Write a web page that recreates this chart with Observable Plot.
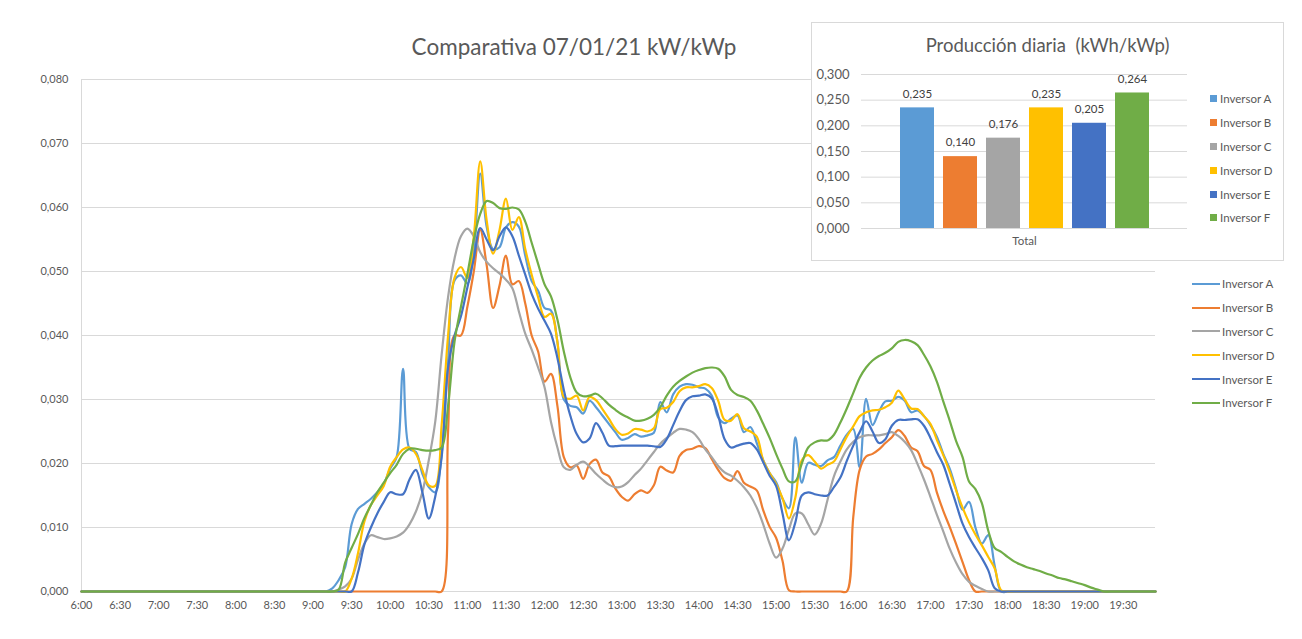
<!DOCTYPE html>
<html><head><meta charset="utf-8">
<script src="https://cdn.jsdelivr.net/npm/d3@7"></script>
<script src="https://cdn.jsdelivr.net/npm/@observablehq/plot@0.6"></script>
<style>
body{margin:0;background:#fff;}
#wrap{position:relative;width:1302px;height:639px;overflow:hidden;font-family:Lato,"Liberation Sans",sans-serif;color:#595959;background:#fff;}
#main{position:absolute;left:0;top:0;}
#title{position:absolute;left:0;width:1148px;top:33px;text-align:center;font-size:22.5px;line-height:28px;white-space:pre;}
#inset{position:absolute;left:811px;top:22px;width:473px;height:239px;box-sizing:border-box;border:1px solid #d9d9d9;background:#fff;}
#insetTitle{position:absolute;left:0;width:471px;top:10px;text-align:center;font-size:18.5px;line-height:24px;white-space:pre;}
#insetPlot{position:absolute;left:0;top:0;}
.leg{position:absolute;font-size:11.5px;}
.leg .row{height:23.8px;display:flex;align-items:center;white-space:nowrap;}
.leg .ln{width:28px;height:2px;margin-right:2px;}
.leg .sq{width:7px;height:7px;margin-right:3px;}
</style></head>
<body>
<div id="wrap">
  <div id="main"></div>
  <div id="title"></div>
  <div id="legMain" class="leg" style="left:1192px;top:272px;"></div>
  <div id="inset">
    <div id="insetPlot"></div>
    <div id="insetTitle"></div>
  </div>
  <div id="legInset" class="leg" style="left:1210px;top:87px;"></div>
</div>
<script>
// ---------- data ----------
const chartTitle = "Comparativa 07/01/21 kW/kWp";
const insetTitle = "Producción diaria  (kWh/kWp)";
const seriesNames = ["Inversor A","Inversor B","Inversor C","Inversor D","Inversor E","Inversor F"];
const seriesColors = ["#5B9BD5","#ED7D31","#A5A5A5","#FFC000","#4472C4","#70AD47"];

// time categories in minutes after midnight: 6:00, then every 5 min from 9:05 to 19:20, then 19:55
const times = [360].concat(d3.range(545, 1161, 5)).concat([1195]);

const invA = [0,
 0,0,0.0005,0.0018,0.0038,0.0105,0.0129,0.0137,0.0145,0.0155,0.0168,
 0.0192,0.021,0.0348,0.0223,0.0218,0.0184,0.0163,0.0155,0.0215,0.036,0.0486,0.0494,
 0.0481,0.0533,0.0653,0.057,0.0535,0.0538,0.0569,0.0577,0.057,0.0525,0.0485,0.047,
 0.0443,0.0439,0.039,0.030,0.029,0.0288,0.0278,0.0298,0.0288,0.0275,0.0262,0.0249,
 0.0237,0.024,0.0246,0.0242,0.0244,0.0248,0.0296,0.028,0.0308,0.032,0.0324,0.0323,
 0.0319,0.0317,0.0306,0.0272,0.0263,0.027,0.0275,0.0249,0.0257,0.0232,0.0205,0.0185,
 0.0171,0.0145,0.013,0.0241,0.017,0.0201,0.0198,0.0196,0.0205,0.021,0.0228,0.0245,
 0.0254,0.0194,0.0301,0.026,0.0281,0.0297,0.0298,0.0304,0.0298,0.028,0.0283,0.0274,
 0.026,0.0242,0.0215,0.0192,0.016,0.0128,0.014,0.01,0.0075,0.0088,0.004,0,
 0,0,0,0,0,0,0,0,0,0,0,0,
 0,0,0,0,0,
 0];
const invB = [0,
 0,0,0,0,0,0,0,0,0,0,0,
 0,0,0,0,0,0,0,0,0,0.025,0.040,0.040,
 0.0445,0.050,0.0565,0.051,0.0443,0.0478,0.0525,0.048,0.0485,0.045,0.040,0.0375,
 0.0328,0.034,0.029,0.021,0.0194,0.0197,0.0176,0.0199,0.0206,0.0186,0.018,0.0161,
 0.0148,0.0142,0.0152,0.0158,0.0154,0.0166,0.0195,0.0189,0.0186,0.0212,0.0221,0.0223,
 0.0227,0.0224,0.0207,0.019,0.0177,0.0173,0.0188,0.017,0.0164,0.0158,0.0127,0.0101,
 0.0084,0.0048,0.0002,0,0,0,0,0,0,0,0,0,
 0.0116,0.019,0.0211,0.0215,0.0222,0.0232,0.0241,0.0252,0.0243,0.0225,0.0219,0.0196,
 0.019,0.0155,0.0126,0.0101,0.0074,0.0046,0.0018,0,0,0,0,0,
 0,0,0,0,0,0,0,0,0,0,0,0,
 0,0,0,0,0,
 0];
const invC = [0,
 0,0,0,0.0003,0.0008,0.002,0.005,0.0075,0.0088,0.0085,0.0082,
 0.0083,0.0086,0.0092,0.0105,0.0125,0.0155,0.0205,0.0265,0.037,0.046,0.052,0.0555,
 0.0567,0.0555,0.053,0.0515,0.0505,0.0497,0.0487,0.0474,0.0438,0.0403,0.0378,0.035,
 0.0319,0.0265,0.0225,0.0194,0.019,0.0198,0.0203,0.0195,0.0184,0.0175,0.0167,0.0163,
 0.0164,0.0171,0.0182,0.0192,0.0205,0.0218,0.0231,0.024,0.0248,0.0254,0.0253,0.0249,
 0.0238,0.0222,0.021,0.0196,0.0186,0.0181,0.0173,0.0163,0.015,0.0131,0.0105,0.0075,
 0.0053,0.0067,0.0097,0.0122,0.0122,0.0105,0.0089,0.0106,0.0143,0.018,0.0203,0.0222,
 0.0234,0.0241,0.0244,0.0244,0.0244,0.0246,0.0249,0.0243,0.0234,0.0221,0.0199,0.0175,
 0.0148,0.012,0.0094,0.0067,0.0045,0.0027,0.0015,0.0009,0.0004,0,0,0,
 0,0,0,0,0,0,0,0,0,0,0,0,
 0,0,0,0,0,
 0];
const invD = [0,
 0,0,0,0,0,0.002,0.006,0.011,0.0135,0.015,0.0165,
 0.0195,0.021,0.0222,0.0225,0.0215,0.019,0.0166,0.0165,0.026,0.040,0.049,0.0507,
 0.049,0.0555,0.0672,0.058,0.0528,0.0565,0.0614,0.0565,0.0585,0.0535,0.0495,0.046,
 0.0429,0.0434,0.039,0.0304,0.0301,0.0306,0.0283,0.0304,0.0299,0.0285,0.027,0.0254,
 0.0245,0.0247,0.0254,0.0253,0.025,0.0255,0.0285,0.0287,0.0296,0.0313,0.0319,0.0319,
 0.0321,0.0324,0.0318,0.0298,0.0268,0.0267,0.0277,0.0255,0.025,0.0242,0.0205,0.0185,
 0.0168,0.0146,0.0114,0.0147,0.0205,0.0213,0.0203,0.0192,0.0198,0.0203,0.0222,0.0242,
 0.0258,0.0274,0.028,0.0283,0.0284,0.0288,0.0295,0.0314,0.030,0.0286,0.0285,0.0274,
 0.0262,0.0237,0.0213,0.0187,0.0158,0.0131,0.0108,0.0089,0.0072,0.0054,0.0036,0.0002,
 0,0,0,0,0,0,0,0,0,0,0,0,
 0,0,0,0,0,
 0];
const invE = [0,
 0,0,0,0,0,0,0.003,0.0074,0.010,0.0122,0.014,
 0.0155,0.0152,0.0152,0.0175,0.019,0.0155,0.0114,0.0148,0.021,0.035,0.040,0.043,
 0.0475,0.052,0.0568,0.055,0.0533,0.0555,0.0569,0.0555,0.0525,0.0495,0.0465,0.0442,
 0.0423,0.0403,0.0365,0.0315,0.0275,0.0246,0.0233,0.0239,0.0263,0.0248,0.0228,0.0227,
 0.0228,0.0228,0.0228,0.0228,0.0228,0.0227,0.0226,0.0238,0.026,0.0282,0.0299,0.0305,
 0.0306,0.0308,0.0302,0.0275,0.0238,0.0225,0.0228,0.0231,0.0232,0.0222,0.0202,0.0181,
 0.0165,0.0122,0.008,0.0108,0.015,0.0155,0.0152,0.015,0.015,0.0163,0.0178,0.0204,
 0.0228,0.0249,0.0266,0.025,0.0232,0.0238,0.0259,0.0268,0.0268,0.0269,0.0269,0.0259,
 0.024,0.0218,0.0198,0.0168,0.0137,0.0106,0.0085,0.0068,0.0052,0.0033,0.0005,0,
 0,0,0,0,0,0,0,0,0,0,0,0,
 0,0,0,0,0,
 0];
const invF = [0,
 0,0,0,0.0003,0.0045,0.0068,0.009,0.0115,0.0135,0.0155,0.017,
 0.0185,0.0198,0.0215,0.0223,0.0223,0.0221,0.022,0.0221,0.0225,0.029,0.039,0.0445,
 0.0496,0.055,0.059,0.061,0.0607,0.0599,0.0598,0.060,0.0597,0.0578,0.0545,0.0512,
 0.048,0.0461,0.0425,0.0375,0.0335,0.0311,0.0305,0.0306,0.0309,0.0302,0.0292,0.0284,
 0.0277,0.0272,0.0267,0.0267,0.027,0.0276,0.0288,0.0306,0.032,0.0329,0.0336,0.0342,
 0.0346,0.0349,0.035,0.0348,0.0336,0.0315,0.0307,0.0304,0.0298,0.0283,0.0262,0.024,
 0.0215,0.0192,0.0172,0.0172,0.020,0.0225,0.0233,0.0236,0.0236,0.0245,0.0264,0.0286,
 0.031,0.0334,0.035,0.0361,0.0368,0.0373,0.038,0.039,0.0393,0.0391,0.0385,0.037,
 0.0352,0.0328,0.0297,0.0267,0.0235,0.021,0.0172,0.016,0.0138,0.0095,0.0068,0.0062,
 0.0054,0.0047,0.0042,0.0038,0.0035,0.0032,0.0028,0.0025,0.0021,0.0019,0.0016,0.0013,
 0.001,0.0006,0.0003,0,0,
 0];
const seriesValues = [invA, invB, invC, invD, invE, invF];

const xTickLabels = ["6:00","6:30","7:00","7:30","8:00","8:30","9:00","9:30","10:00","10:30","11:00","11:30","12:00","12:30","13:00","13:30","14:00","14:30","15:00","15:30","16:00","16:30","17:00","17:30","18:00","18:30","19:00","19:30"];
const yTicksMain = [0,0.01,0.02,0.03,0.04,0.05,0.06,0.07,0.08];

const dailyTotals = [0.235,0.140,0.176,0.235,0.205,0.264];
const yTicksInset = [0,0.05,0.10,0.15,0.20,0.25,0.30];
const insetCategory = "Total";

// ---------- helpers ----------
const toMin = s => { const [h,m] = s.split(":").map(Number); return h*60+m; };
const fmtMin = m => `${Math.floor(m/60)}:${String(m%60).padStart(2,"0")}`;
const fmtComma = d => d.toFixed(3).replace(".", ",");
const font = 'Lato, "Liberation Sans", sans-serif';

const rows = [];
seriesNames.forEach((name, i) => {
  seriesValues[i].forEach((v, j) => rows.push({t: times[j], v, s: name}));
});

// ---------- main chart ----------
const main = Plot.plot({
  width: 1302, height: 639,
  marginLeft: 81, marginRight: 147, marginTop: 79, marginBottom: 48,
  style: {fontFamily: font, fontSize: "11px", color: "#595959", background: "transparent"},
  x: {domain: [360, 1195], ticks: xTickLabels.map(toMin), tickFormat: fmtMin, tickSize: 0, tickPadding: 10, label: null},
  y: {domain: [0, 0.08], ticks: yTicksMain, tickFormat: fmtComma, tickSize: 0, tickPadding: 13, label: null},
  color: {domain: seriesNames, range: seriesColors},
  marks: [
    Plot.gridY(yTicksMain, {stroke: "#d9d9d9", strokeOpacity: 1}),
    Plot.ruleX([360], {stroke: "#d9d9d9"}),
    Plot.line(rows, {x: "t", y: "v", z: "s", stroke: "s", curve: "catmull-rom", strokeWidth: 2.2})
  ]
});
document.getElementById("main").appendChild(main);
document.getElementById("title").textContent = chartTitle;

// ---------- inset bar chart ----------
const bars = seriesNames.map((s, i) => ({s, v: dailyTotals[i]}));
const inset = Plot.plot({
  width: 471, height: 237,
  marginLeft: 49, marginRight: 96, marginTop: 51, marginBottom: 32,
  style: {fontFamily: font, fontSize: "13px", color: "#595959", background: "transparent"},
  x: {type: "band", domain: seriesNames, range: [81.2, 342.8], paddingInner: 0.22, paddingOuter: 0.11, axis: null},
  y: {domain: [0, 0.3], ticks: yTicksInset, tickFormat: fmtComma, tickSize: 0, tickPadding: 12, label: null},
  color: {domain: seriesNames, range: seriesColors},
  marks: [
    Plot.gridY(yTicksInset, {stroke: "#d9d9d9", strokeOpacity: 1}),
    Plot.barY(bars, {x: "s", y: "v", fill: "s"}),
    Plot.text(bars, {x: "s", y: "v", text: d => fmtComma(d.v), dy: -14, fill: "#404040", fontSize: 11.5}),
    Plot.text([insetCategory], {frameAnchor: "bottom", dy: 16, fill: "#595959", fontSize: 11.5})
  ]
});
document.getElementById("insetPlot").appendChild(inset);
document.getElementById("insetTitle").textContent = insetTitle;

// ---------- legends ----------
const legMain = document.getElementById("legMain");
const legInset = document.getElementById("legInset");
seriesNames.forEach((name, i) => {
  const r = document.createElement("div"); r.className = "row";
  r.innerHTML = `<span class="ln" style="background:${seriesColors[i]}"></span><span>${name}</span>`;
  legMain.appendChild(r);
  const r2 = document.createElement("div"); r2.className = "row";
  r2.innerHTML = `<span class="sq" style="background:${seriesColors[i]}"></span><span>${name}</span>`;
  legInset.appendChild(r2);
});
</script>
</body></html>
